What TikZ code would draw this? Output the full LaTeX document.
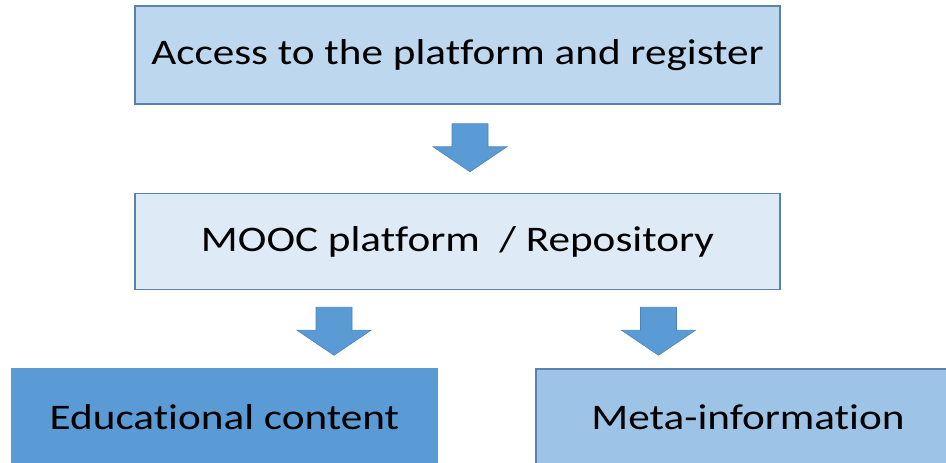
\documentclass[tikz,border=0pt]{standalone}
\usepackage{fontspec}
\setmainfont[FakeStretch=1.2, Ligatures=CommonOff]{Carlito}
\usetikzlibrary{positioning}
\usetikzlibrary{calc}
\definecolor{edgeblue}{HTML}{5A82B0}
\definecolor{palefill}{HTML}{BDD7EE}
\definecolor{paler}{HTML}{DEEBF7}
\definecolor{accent}{HTML}{5B9BD5}
\definecolor{midfill}{HTML}{9DC3E6}
\tikzset{box/.style={draw=edgeblue, line width=1.5pt, rectangle, text=black,
    font=\fontsize{36}{40}\selectfont, minimum height=96pt},
  downarr/.pic={\filldraw[fill=accent, draw=accent!85!black, line width=0.6pt]
    (-18,0) -- (18,0) -- (18,23) -- (37,23) -- (0,48) -- (-37,23) -- (-18,23) -- cycle;}}

\begin{document}
\begin{tikzpicture}[x=1pt, y=-1pt, node distance=88pt]
    \clip (0,0) rectangle (946,463);
    % the two wide boxes
    \node [box, fill=palefill, minimum width=645pt, minimum height=98pt] (access) at (457.5,55) {Access to the platform and register};
    \node [box, fill=paler, minimum width=645pt, below=88pt of access] (mooc) {MOOC platform~~/ Repository};

    % the two boxes at the bottom
    \node [box, fill=accent, draw=accent, minimum width=425pt] (content) at (224.5,417) {Educational content};
    \node [box, fill=midfill, minimum width=424pt] (meta) at (748,417) {Meta-information};

    % block arrows
    \coordinate (a1) at ($(access.south)+(12.5,19)$);
    \coordinate (a2) at ($(mooc.south)+(-123.5,17)$);
    \coordinate (a3) at ($(mooc.south)+(201,17)$);
    \pic at (a1) {downarr};
    \pic at (a2) {downarr};
    \pic at (a3) {downarr};
\end{tikzpicture}
\end{document}
